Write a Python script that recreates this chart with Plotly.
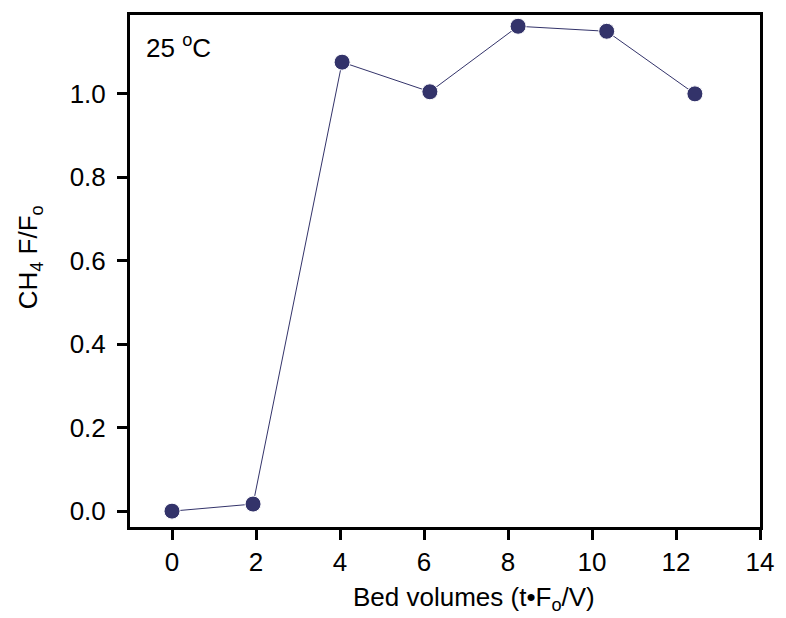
import plotly.graph_objects as go

bed_volumes = [0.0, 1.93, 4.05, 6.14, 8.24, 10.35, 12.45]
ch4_ratio = [0.0, 0.017, 1.076, 1.005, 1.162, 1.150, 1.0]
x_ticks = [0, 2, 4, 6, 8, 10, 12, 14]
y_ticks = [0.0, 0.2, 0.4, 0.6, 0.8, 1.0]
y_tick_labels = ["0.0", "0.2", "0.4", "0.6", "0.8", "1.0"]

navy = "#33336a"
font_family = "Liberation Sans, Arial, Helvetica, sans-serif"
fs = 26

fig = go.Figure()
fig.add_trace(go.Scatter(
    x=bed_volumes, y=ch4_ratio, mode="lines+markers",
    line=dict(color=navy, width=1),
    marker=dict(color=navy, size=16, line=dict(color="white", width=1)),
    showlegend=False, cliponaxis=False,
))

axis_common = dict(
    showline=True, linecolor="black", linewidth=3, mirror=True,
    ticks="outside", ticklen=10, tickwidth=3, tickcolor="black",
    showgrid=False, zeroline=False,
    tickfont=dict(size=fs, color="black", family=font_family),
)

fig.update_xaxes(range=[-1.0, 14.0], tickvals=x_ticks, ticklabelstandoff=0, **axis_common)
fig.update_yaxes(range=[-0.038, 1.189], tickvals=y_ticks, ticktext=y_tick_labels,
                 ticklabelstandoff=6, **axis_common)

fig.add_annotation(
    text="Bed volumes (t•F<sub>o</sub>/V)", xref="paper", yref="paper",
    x=(478 - 130) / 638, y=-(599 - 527) / 514, xanchor="center", yanchor="middle",
    showarrow=False, font=dict(size=fs, color="black", family=font_family),
)
fig.add_annotation(
    text="CH<sub>4</sub> F/F<sub>o</sub>", xref="paper", yref="paper",
    x=-(130 - 28) / 638, y=(527 - 256) / 514, xanchor="center", yanchor="middle",
    textangle=-90, showarrow=False, font=dict(size=fs, color="black", family=font_family),
)
fig.add_annotation(
    text="25 <sup>o</sup>C", xref="paper", yref="paper",
    x=14 / 638, y=1 - 13 / 514, xanchor="left", yanchor="top",
    showarrow=False, font=dict(size=fs, color="black", family=font_family),
)

fig.update_layout(
    width=786, height=618,
    margin=dict(l=130, r=18, t=13, b=91),
    plot_bgcolor="white", paper_bgcolor="white",
)

fig.write_html("out.html")
